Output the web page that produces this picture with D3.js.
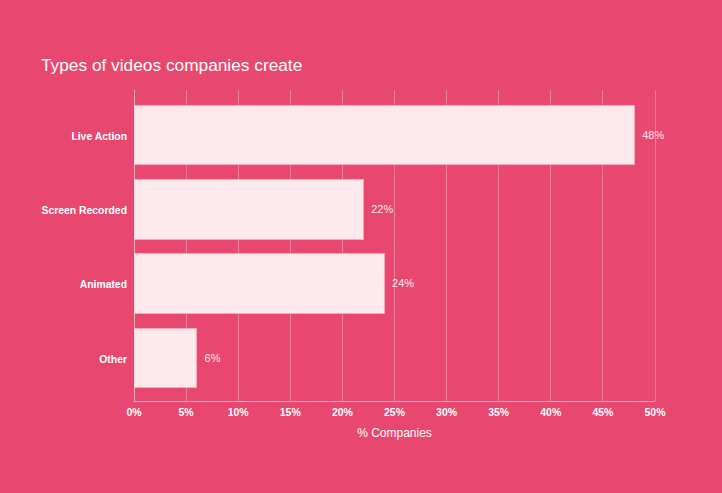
<!DOCTYPE html>
<html><head><meta charset="utf-8">
<script src="https://cdn.jsdelivr.net/npm/d3@7"></script>
<style>
html,body{margin:0;padding:0;background:#e8476f;}
svg{display:block;font-family:"Liberation Sans",Arial,sans-serif;}
</style></head><body>
<svg id="c" width="722" height="493"></svg>
<script>
const categories = ["Live Action","Screen Recorded","Animated","Other"];
const values = [48,22,24,6];
const xTicks = [0,5,10,15,20,25,30,35,40,45,50];
const title = "Types of videos companies create";
const xTitle = "% Companies";

const svg = d3.select("#c");
const W=722,H=493;
svg.append("rect").attr("width",W).attr("height",H).attr("fill","#e8476f");
const m={l:134,r:67,t:90,b:92};
const x=d3.scaleLinear().domain([0,50]).range([m.l,W-m.r]);
const y=d3.scaleBand().domain(categories).range([90.5,402.5]).paddingInner(0.2).paddingOuter(0.2);

// grid
svg.append("g").selectAll("line").data(xTicks.slice(1)).join("line")
 .attr("x1",d=>x(d)).attr("x2",d=>x(d)).attr("y1",m.t).attr("y2",H-m.b)
 .attr("stroke","rgba(255,255,255,0.3)").attr("stroke-width",1).attr("shape-rendering","crispEdges");

// bars
svg.append("g").selectAll("rect").data(values).join("rect")
 .attr("x",x(0)).attr("y",(d,i)=>y(categories[i]))
 .attr("width",d=>x(d)-x(0)).attr("height",y.bandwidth())
 .attr("fill","#fde8ec").attr("stroke","#f9a9bb").attr("stroke-width",1).attr("shape-rendering","crispEdges");

// value labels
svg.append("g").selectAll("text").data(values).join("text")
 .attr("x",d=>x(d)+8).attr("y",(d,i)=>y(categories[i])+y.bandwidth()/2)
 .attr("dy","0.35em").attr("fill","#fde8ec").attr("font-size",11).text(d=>d+"%");

// axes lines
svg.append("line").attr("x1",x(0)).attr("x2",x(0)).attr("y1",m.t).attr("y2",H-m.b)
 .attr("stroke","rgba(255,255,255,0.55)").attr("shape-rendering","crispEdges");
svg.append("line").attr("x1",x(0)).attr("x2",x(50)).attr("y1",H-m.b).attr("y2",H-m.b)
 .attr("stroke","rgba(255,255,255,0.55)").attr("shape-rendering","crispEdges");

// x tick labels
svg.append("g").selectAll("text").data(xTicks).join("text")
 .attr("x",d=>x(d)).attr("y",H-m.b+15).attr("text-anchor","middle")
 .attr("fill","#fff").attr("font-size",10.5).attr("font-weight","bold").text(d=>d+"%");

// y labels
svg.append("g").selectAll("text").data(categories).join("text")
 .attr("x",x(0)-7).attr("y",d=>y(d)+y.bandwidth()/2).attr("dy","0.45em")
 .attr("text-anchor","end").attr("fill","#fff").attr("font-size",10.4).attr("font-weight","bold").text(d=>d);

svg.append("text").attr("x",(x(0)+x(50))/2).attr("y",437).attr("text-anchor","middle")
 .attr("fill","#fff").attr("font-size",12).text(xTitle);

svg.append("text").attr("x",41).attr("y",71).attr("fill","#fff").attr("font-size",17.3).text(title);
</script></body></html>
